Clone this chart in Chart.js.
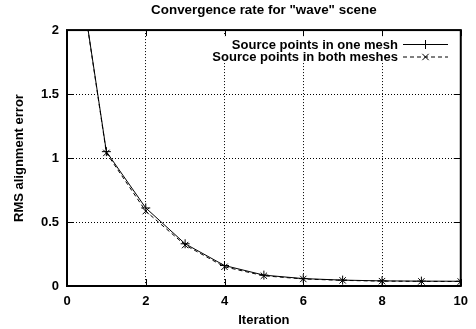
<!DOCTYPE html>
<html>
<head>
<meta charset="utf-8">
<script src="https://cdn.jsdelivr.net/npm/chart.js@4/dist/chart.umd.min.js"></script>
<style>
	html, body { margin: 0; padding: 0; background: #fff; }
	#wrap { width: 476px; height: 329px; }
</style>
</head>
<body>
<div id="wrap"><canvas id="convChart" width="476" height="329"></canvas></div>
<script>
// chart data
const iterations = [0, 1, 2, 3, 4, 5, 6, 7, 8, 9, 10];
const oneMesh = [3.1, 1.05, 0.61, 0.33, 0.16, 0.085, 0.058, 0.046, 0.04, 0.038, 0.037];
const bothMeshes = [3.1, 1.04, 0.585, 0.32, 0.15, 0.08, 0.055, 0.044, 0.038, 0.036, 0.035];
const seriesNames = ['Source points in one mesh', 'Source points in both meshes'];
const xTicks = [0, 2, 4, 6, 8, 10];
const yTicks = [0, 0.5, 1, 1.5, 2];

const FONT = 'Liberation Sans, Arial, Helvetica, sans-serif';

// gnuplot style frame: border, inward ticks, boxed key
const framePlugin = {
	id: 'frame',
	beforeDatasetsDraw(chart) {
		const a = chart.chartArea;
		const ctx = chart.ctx;
		ctx.save();
		ctx.fillStyle = '#fff';
		ctx.fillRect(200, a.top + 6, a.right - 201, 25);
		ctx.restore();
	},
	afterDraw(chart) {
		const a = chart.chartArea;
		const ctx = chart.ctx;
		const xs = chart.scales.x;
		const ys = chart.scales.y;
		ctx.save();
		ctx.strokeStyle = '#000';
		ctx.lineWidth = 1;
		ctx.beginPath();
		xTicks.forEach(v => {
			const px = Math.round(xs.getPixelForValue(v)) + 0.5;
			ctx.moveTo(px, a.bottom); ctx.lineTo(px, a.bottom - 7);
			ctx.moveTo(px, a.top); ctx.lineTo(px, a.top + 6);
		});
		yTicks.forEach(v => {
			const py = Math.round(ys.getPixelForValue(v)) + 0.5;
			ctx.moveTo(a.left, py); ctx.lineTo(a.left + 7, py);
			ctx.moveTo(a.right, py); ctx.lineTo(a.right - 7, py);
		});
		ctx.stroke();
		ctx.lineWidth = 2;
		ctx.strokeRect(a.left, a.top, a.right - a.left, a.bottom - a.top);

		// key
		const textRight = 398;
		const rows = [44.5, 57];
		ctx.font = 'bold 13px ' + FONT;
		ctx.textAlign = 'right';
		ctx.textBaseline = 'middle';
		ctx.fillStyle = '#000';
		chart.data.datasets.forEach((ds, i) => {
			const y = rows[i];
			ctx.fillText(ds.label, textRight, y + 0.5);
			ctx.lineWidth = 1;
			ctx.setLineDash(ds.borderDash || []);
			ctx.beginPath();
			ctx.moveTo(403, y);
			ctx.lineTo(448, y);
			ctx.stroke();
			ctx.setLineDash([]);
			Chart.helpers.drawPoint(ctx, {
				pointStyle: ds.pointStyle,
				radius: ds.pointRadius,
				borderWidth: 1
			}, 425.5, y);
		});
		ctx.restore();
	}
};

const hideEdges = (c) => {
	const v = c.tick.value;
	return (v === c.scale.min || v === c.scale.max) ? 'rgba(0,0,0,0)' : '#000';
};

new Chart(document.getElementById('convChart').getContext('2d'), {
	type: 'line',
	data: {
		labels: iterations,
		datasets: [
			{
				label: seriesNames[0],
				data: iterations.map((x, i) => ({ x: x, y: oneMesh[i] })),
				borderColor: '#000',
				backgroundColor: '#000',
				borderWidth: 1,
				pointStyle: 'cross',
				pointRadius: 4.5,
				pointBorderWidth: 1,
				tension: 0
			},
			{
				label: seriesNames[1],
				data: iterations.map((x, i) => ({ x: x, y: bothMeshes[i] })),
				borderColor: '#000',
				backgroundColor: '#000',
				borderWidth: 1,
				borderDash: [4, 3],
				pointStyle: 'crossRot',
				pointRadius: 4.5,
				pointBorderWidth: 1,
				tension: 0
			}
		]
	},
	options: {
		responsive: false,
		animation: false,
		layout: {
			padding: { left: 0, right: 13, top: 0, bottom: 0 }
		},
		plugins: {
			legend: { display: false },
			tooltip: { enabled: false },
			title: {
				display: true,
				fullSize: false,
				text: 'Convergence rate for "wave" scene',
				color: '#000',
				font: { family: FONT, size: 13.4, weight: 'bold' },
				padding: { top: 2, bottom: 12 }
			}
		},
		scales: {
			x: {
				type: 'linear',
				min: 0,
				max: 10,
				afterFit: (s) => { s.height = 43; },
				afterBuildTicks: (s) => { s.ticks = xTicks.map(v => ({ value: v })); },
				ticks: {
					color: '#000',
					padding: 8,
					maxRotation: 0,
					callback: (v) => String(v),
					font: { family: FONT, size: 13, weight: 'bold' }
				},
				grid: { color: hideEdges, lineWidth: 1, drawTicks: false },
				border: { display: false, dash: [1, 2] },
				title: {
					display: true,
					text: 'Iteration',
					color: '#000',
					padding: { top: 0, bottom: 1 },
					font: { family: FONT, size: 13, weight: 'bold' }
				}
			},
			y: {
				min: 0,
				max: 2,
				afterFit: (s) => { s.width = 67; },
				afterBuildTicks: (s) => { s.ticks = yTicks.map(v => ({ value: v })); },
				ticks: {
					color: '#000',
					padding: 8,
					callback: (v) => String(v),
					font: { family: FONT, size: 13, weight: 'bold' }
				},
				grid: { color: hideEdges, lineWidth: 1, drawTicks: false },
				border: { display: false, dash: [1, 2] },
				title: {
					display: true,
					text: 'RMS alignment error',
					color: '#000',
					padding: { top: 12, bottom: 0 },
					font: { family: FONT, size: 13, weight: 'bold' }
				}
			}
		}
	},
	plugins: [framePlugin]
});
</script>
</body>
</html>
